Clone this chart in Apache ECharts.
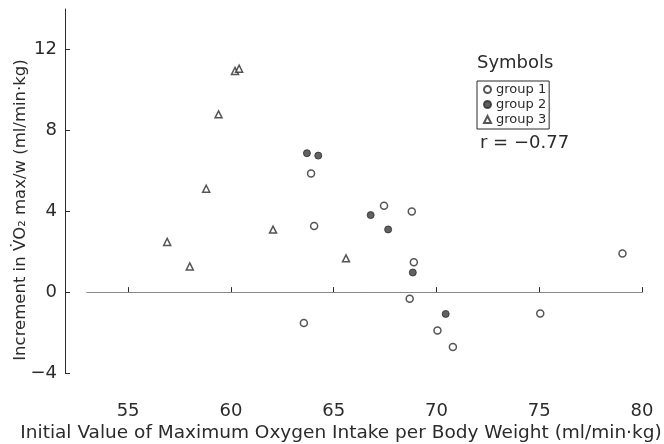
<!DOCTYPE html>
<html>
<head>
<meta charset="utf-8">
<script src="https://cdn.jsdelivr.net/npm/echarts@6/dist/echarts.min.js"></script>
<style>
  html, body { margin: 0; padding: 0; background: #fff; }
  #chart { width: 664px; height: 444px; }
</style>
</head>
<body>
<div id="chart"></div>
<script>
// values
const group1X = [63.9, 67.45, 68.8, 64.05, 68.9, 68.7, 63.55, 70.05, 70.8, 75.05, 79.05];
const group1Y = [5.86, 4.27, 3.99, 3.27, 1.48, -0.33, -1.53, -1.9, -2.72, -1.06, 1.91];
const group2X = [63.7, 64.25, 66.8, 67.65, 68.85, 70.45];
const group2Y = [6.87, 6.75, 3.81, 3.1, 0.97, -1.08];
const group3X = [60.2, 60.4, 59.4, 58.8, 62.05, 56.9, 58.0, 65.6];
const group3Y = [10.94, 11.05, 8.79, 5.11, 3.09, 2.48, 1.27, 1.67];
const xTicks = [55, 60, 65, 70, 75, 80];
const yTicks = [-4, 0, 4, 8, 12];
const groupNames = ['group 1', 'group 2', 'group 3'];
const corrText = 'r = \u22120.77';

const ink = '#2b2b2b';
const font = 'DejaVu Sans';

function pairs (xs, ys) {
  return xs.map((x, i) => [x, ys[i]]);
}

const chart = echarts.init(document.getElementById('chart'));

let option = {
  animation: false,
  textStyle: { fontFamily: font, color: ink },
  grid: { left: 87, right: 22, top: 9, bottom: 71, outerBoundsMode: 'none' },
  title: [
    { text: 'Symbols', left: 477, top: 54, padding: 0,
      textStyle: { fontSize: 18, fontWeight: 'normal', color: ink, fontFamily: font } },
    { text: corrText, left: 480, top: 134, padding: 0,
      textStyle: { fontSize: 18, fontWeight: 'normal', color: ink, fontFamily: font } }
  ],
  legend: {
    data: groupNames,
    orient: 'vertical',
    left: 477,
    top: 81,
    padding: [2, 3, 3, 6],
    itemGap: 2,
    itemWidth: 7,
    itemHeight: 7,
    borderColor: ink,
    borderWidth: 1,
    textStyle: { fontSize: 13, color: ink, fontFamily: font }
  },
  xAxis: {
    type: 'value',
    min: 53,
    max: 80,
    offset: 24,
    name: 'Initial Value of Maximum Oxygen Intake per Body Weight (ml/min\u00b7kg)',
    nameLocation: 'middle',
    nameGap: 27,
    nameMoveOverlap: false,
    nameTextStyle: { fontSize: 18.5, color: ink, padding: [0, 47, 0, 0] },
    axisLine: { lineStyle: { color: ink, width: 1 } },
    axisTick: { inside: true, length: 5, customValues: xTicks, lineStyle: { color: ink } },
    axisLabel: { customValues: xTicks, fontSize: 18, color: ink, margin: 5 },
    splitLine: { show: false }
  },
  yAxis: {
    type: 'value',
    min: -4,
    max: 14,
    offset: 22,
    name: 'Increment in V\u0307O\u2082 max/w (ml/min\u00b7kg)',
    nameLocation: 'middle',
    nameGap: 36,
    nameMoveOverlap: false,
    nameTextStyle: { fontSize: 16.5, color: ink, padding: [0, 38, 0, 0] },
    axisLine: { onZero: false, lineStyle: { color: ink, width: 1 } },
    axisTick: { inside: true, length: 5, customValues: yTicks, lineStyle: { color: ink } },
    axisLabel: {
      customValues: yTicks, fontSize: 18, color: ink, margin: 8,
      formatter: v => String(v).replace('-', '\u2212')
    },
    splitLine: { show: false }
  },
  series: [
    {
      name: groupNames[0],
      type: 'scatter',
      symbol: 'circle',
      symbolSize: 7,
      itemStyle: { color: '#fff', borderColor: ink, borderWidth: 1.5 },
      data: pairs(group1X, group1Y),
      markLine: {
        silent: true,
        symbol: 'none',
        label: { show: false },
        lineStyle: { color: '#8a8a8a', width: 1, type: 'solid' },
        data: [{ yAxis: 0 }]
      }
    },
    {
      name: groupNames[1],
      type: 'scatter',
      symbol: 'circle',
      symbolSize: 7,
      itemStyle: { color: '#3a3a3a', borderColor: ink, borderWidth: 1 },
      data: pairs(group2X, group2Y)
    },
    {
      name: groupNames[2],
      type: 'scatter',
      symbol: 'triangle',
      symbolSize: 7,
      itemStyle: { color: '#fff', borderColor: ink, borderWidth: 1.5 },
      data: pairs(group3X, group3Y)
    }
  ]
};

chart.setOption(option);
</script>
</body>
</html>
